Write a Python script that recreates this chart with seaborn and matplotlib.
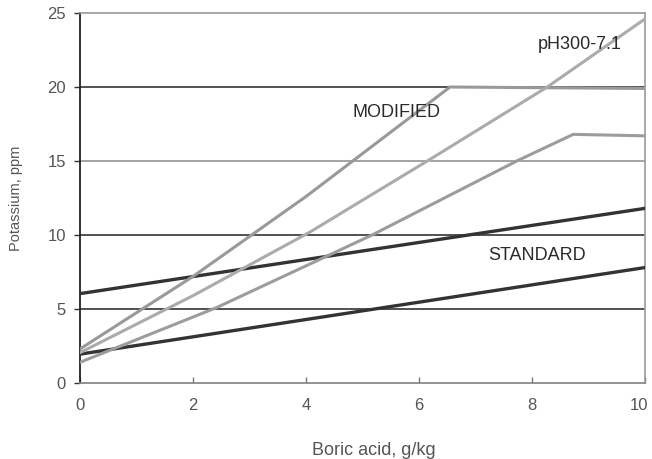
import matplotlib
matplotlib.use("Agg")
import matplotlib.pyplot as plt
import matplotlib.transforms as mtransforms
import numpy as np
import pandas as pd
import seaborn as sns

# ---- data (skew of the scan removed) ----
std_x = [0, 10]
std_upper_y = [6.04, 11.8]
std_lower_y = [1.95, 7.8]

mod_steep_x = [0, 2, 4, 6.55, 10]
mod_steep_y = [2.3, 7.2, 12.6, 20.0, 19.9]

mod_ph_x = [0, 2, 4.07, 6.19, 8.27, 10]
mod_ph_y = [2.05, 5.9, 10.2, 15.1, 20.0, 24.6]

mod_low_x = [0, 2.42, 5.17, 7.73, 8.73, 10]
mod_low_y = [1.4, 5.1, 10.0, 15.0, 16.8, 16.7]

x_ticks = [0, 2, 4, 6, 8, 10]
y_ticks = [0, 5, 10, 15, 20, 25]
x_label = "Boric acid, g/kg"
y_label = "Potassium, ppm"
annotations = [("pH300-7.1", 8.85, 22.9), ("MODIFIED", 5.6, 18.3), ("STANDARD", 8.09, 8.63)]

series = [
    ("std_upper", std_x, std_upper_y, "#333333", 2.4),
    ("std_lower", std_x, std_lower_y, "#333333", 2.4),
    ("mod_steep", mod_steep_x, mod_steep_y, "#999999", 2.2),
    ("mod_ph", mod_ph_x, mod_ph_y, "#ababab", 2.2),
    ("mod_low", mod_low_x, mod_low_y, "#9c9c9c", 2.2),
]

sns.set_theme(style="white")
plt.rcParams["font.family"] = ["Liberation Sans", "DejaVu Sans"]

fig = plt.figure(figsize=(6.52, 4.59), dpi=100)
ax = fig.add_axes([80 / 652, 1 - 383 / 459, 565 / 652, (383 - 13) / 459])

ax.set_xlim(0, 10)
ax.set_ylim(0, 25)

# horizontal gridlines
ax.set_yticks(y_ticks)
ax.yaxis.grid(True)
grid_cols = {0: "none", 5: "#222222", 10: "#222222", 15: "#8a8a8a", 20: "#222222", 25: "none"}
for val, gl in zip(y_ticks, ax.yaxis.get_gridlines()):
    gl.set_color(grid_cols[val])
    gl.set_linewidth(1.1)
ax.xaxis.grid(False)

for name, xs, ys, col, lw in series:
    df = pd.DataFrame({"x": xs, "y": ys})
    sns.lineplot(data=df, x="x", y="y", ax=ax, color=col, linewidth=lw,
                 sort=False, estimator=None, zorder=3)

for txt, tx, ty in annotations:
    ax.text(tx, ty, txt, ha="center", va="center", fontsize=13, color="#2a2a2a", zorder=4)

ax.set_xticks(x_ticks)
ax.set_xticklabels([str(v) for v in x_ticks])
ax.set_yticklabels([str(v) for v in y_ticks])
ax.tick_params(axis="x", direction="in", length=4, width=1, color="#777777",
               labelsize=12, labelcolor="#555555", pad=11, bottom=True)
ax.tick_params(axis="y", direction="out", length=4, width=1, color="#333333",
               labelsize=12, labelcolor="#555555", pad=6, left=True)

# keep the last x tick label inside the figure, as in the reference
last = ax.get_xticklabels()[-1]
last.set_transform(last.get_transform() + mtransforms.ScaledTranslation(-6 / 100, 0, fig.dpi_scale_trans))

ax.set_xlabel(x_label, fontsize=13, color="#555555")
ax.set_ylabel(y_label, fontsize=10.5, color="#555555")
ax.xaxis.set_label_coords(0.52, -0.16)
ax.yaxis.set_label_coords(-0.1, 0.5)

for side, col, ls, lw in [("left", "#222222", "-", 1.3), ("bottom", "#8a8a8a", (0, (3, 1)), 1.3),
                          ("top", "#9a9a9a", (0, (3, 1)), 1.2), ("right", "#9a9a9a", (0, (2, 1)), 1.2)]:
    ax.spines[side].set_visible(True)
    ax.spines[side].set_color(col)
    ax.spines[side].set_linestyle(ls)
    ax.spines[side].set_linewidth(lw)

ax.set_facecolor("white")
fig.patch.set_facecolor("white")
fig.savefig("out.png", dpi=100, facecolor="white")
